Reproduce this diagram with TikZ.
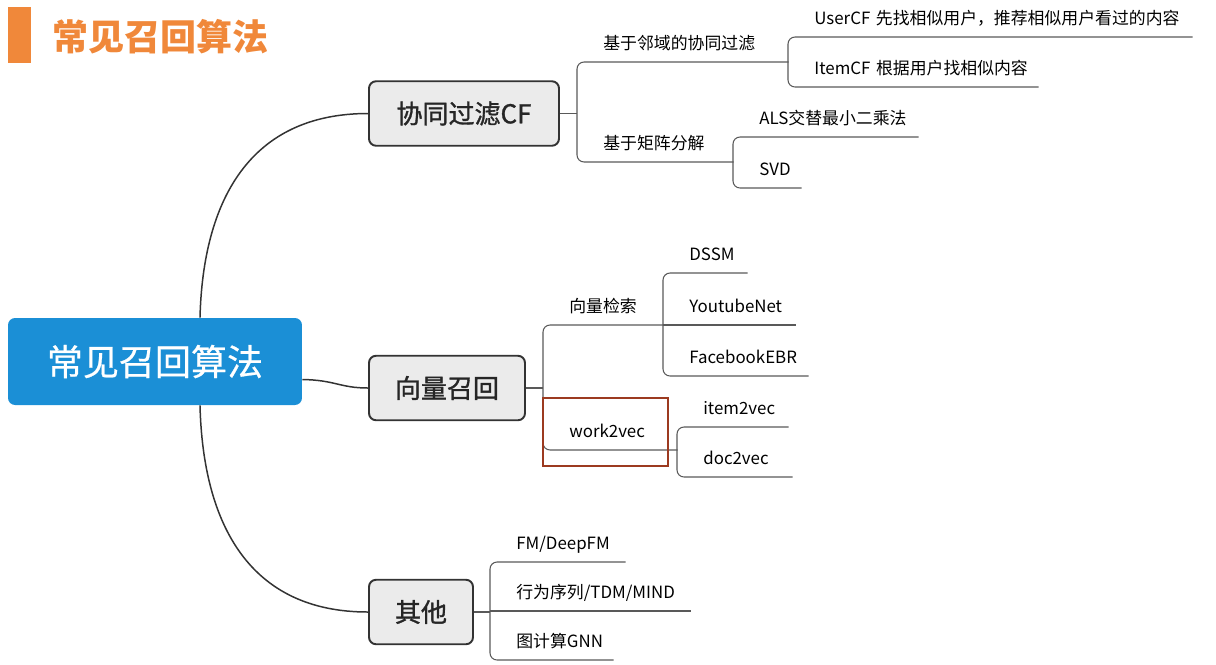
\documentclass[tikz,border=0pt]{standalone}
\usepackage{fontspec}
\setmainfont{Noto Sans CJK SC}
\newfontfamily\branchfont[FakeBold=1.2]{Noto Sans CJK SC}
\newfontfamily\rootfont[FakeBold=0.6]{Noto Sans CJK SC}
\definecolor{rootblue}{HTML}{1B8FD6}
\definecolor{titleorange}{HTML}{F0883A}
\definecolor{markred}{HTML}{9C3A20}
\tikzstyle{bar} = [rectangle, minimum width=0.46cm, minimum height=1.12cm, inner sep=0pt, fill=titleorange]
\tikzstyle{title} = [anchor=west, inner sep=0pt, text=titleorange, font=\fontsize{20.5}{24}\selectfont\bfseries]
\tikzstyle{root} = [rectangle, rounded corners=4pt, minimum width=5.88cm, minimum height=1.74cm, fill=rootblue, text=white, font=\rootfont\fontsize{20.5}{24}\selectfont]
\tikzstyle{branch} = [rectangle, rounded corners=4pt, minimum height=1.29cm, draw=black!80, line width=1.1pt, fill=black!8, text=black!85, font=\branchfont\fontsize{14.8}{17}\selectfont]
\tikzstyle{leaf} = [anchor=south west, inner xsep=0pt, inner ysep=5pt, text height=8pt, text depth=2pt, align=left, font=\fontsize{9.6}{11}\selectfont, execute at begin node={\noindent\hspace*{0.52cm}}]
\tikzstyle{trunk} = [draw=black!80, line width=0.85pt]
\tikzstyle{twig} = [draw=black!65, line width=0.6pt, rounded corners=4pt]
\tikzstyle{hilite} = [rectangle, minimum width=2.5cm, minimum height=1.36cm, draw=markred, line width=1.1pt]
\begin{document}
\begin{tikzpicture}[x=0.02cm, y=-0.02cm]
   \useasboundingbox (0,0) rectangle (1216,664);
   % title
   \node (bar) [bar] at (19.5,35) {};
   \node (title) [title] at (52,37) {常见召回算法};
   % root and branches
   \node (root) [root] at (155,361.5) {常见召回算法};
   \node (cf) [branch, minimum width=3.8cm] at (464,113.5) {协同过滤CF};
   \node (vec) [branch, minimum width=3.12cm] at (447,388) {向量召回};
   \node (oth) [branch, minimum width=2.08cm] at (421,612) {其他};
   % collaborative filtering
   \node (nbcf) [leaf, text width=4.22cm] at (577,62) {基于邻域的协同过滤};
   \node (mf) [leaf, text width=3.12cm] at ([yshift=-2cm]nbcf.south west) {基于矩阵分解};
   \node (usercf) [leaf, text width=8.08cm] at (788,37) {UserCF~先找相似用户，推荐相似用户看过的内容};
   \node (itemcf) [leaf, text width=5cm] at ([yshift=-1cm]usercf.south west) {ItemCF~根据用户找相似内容};
   \node (als) [leaf, text width=3.7cm] at (733,137) {ALS交替最小二乘法};
   \node (svd) [leaf, text width=1.36cm] at ([yshift=-1.02cm]als.south west) {SVD};
   % vector recall
   \node (vsch) [leaf, text width=2.4cm] at (543,325) {向量检索};
   \node (w2v) [leaf, text width=2.68cm] at ([yshift=-2.5cm]vsch.south west) {work2vec};
   \node (ytb) [leaf, text width=2.64cm] at (663,325) {YoutubeNet};
   \node (dssm) [leaf, text width=1.68cm] at ([yshift=1.04cm]ytb.south west) {DSSM};
   \node (fb) [leaf, text width=2.9cm] at ([yshift=-1.02cm]ytb.south west) {FacebookEBR};
   \node (i2v) [leaf, text width=2.22cm] at (677,427) {item2vec};
   \node (d2v) [leaf, text width=2.3cm] at ([yshift=-1cm]i2v.south west) {doc2vec};
   % others
   \node (seq) [leaf, text width=4cm] at (490,611) {行为序列/TDM/MIND};
   \node (fm) [leaf, text width=2.7cm] at ([yshift=0.98cm]seq.south west) {FM/DeepFM};
   \node (gnn) [leaf, text width=2.46cm] at ([yshift=-0.98cm]seq.south west) {图计算GNN};
   % trunk curves
   \draw [trunk] ([xshift=0.9cm]root.north) .. controls (203,200) and (250,113.5) .. (cf.west);
   \draw [trunk] ([yshift=-0.36cm]root.east) .. controls (335,380) and (340,388) .. (vec.west);
   \draw [trunk] ([xshift=0.9cm]root.south) .. controls (203,525) and (250,612) .. (oth.west);
   % brackets
   \draw [twig] (cf.east) -- (cf.east -| nbcf.south west);
   \draw [twig] (nbcf.south east) -- (nbcf.south west) -- (mf.south west) -- (mf.south east);
   \draw [twig] (usercf.south east) -- (usercf.south west) -- (itemcf.south west) -- (itemcf.south east);
   \draw [twig] (als.south east) -- (als.south west) -- (svd.south west) -- (svd.south east);
   \draw [twig] (vec.east) -- (vec.east -| vsch.south west);
   \draw [twig] (vsch.south east) -- (vsch.south west) -- (w2v.south west) -- (w2v.south east);
   \draw [twig] (dssm.south east) -- (dssm.south west) -- (fb.south west) -- (fb.south east);
   \draw [twig] (ytb.south west) -- (ytb.south east);
   \draw [twig] (i2v.south east) -- (i2v.south west) -- (d2v.south west) -- (d2v.south east);
   \draw [twig] (oth.east) -- (oth.east -| seq.south west);
   \draw [twig] (fm.south east) -- (fm.south west) -- (gnn.south west) -- (gnn.south east);
   \draw [twig] (seq.south west) -- (seq.south east);
   % highlight
   \node (box) [hilite] at (605.5,432) {};
\end{tikzpicture}
\end{document}
